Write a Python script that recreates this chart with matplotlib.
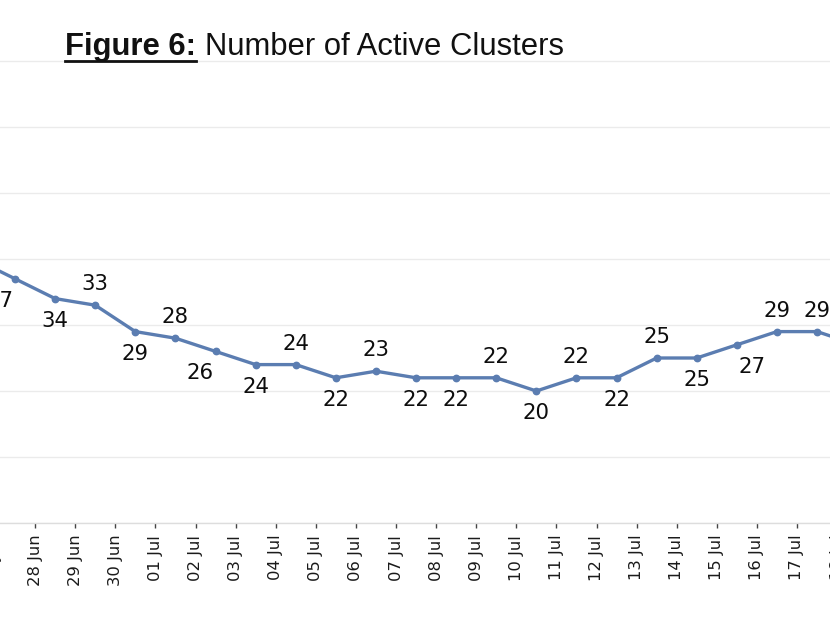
import matplotlib
matplotlib.use("Agg")
import matplotlib.pyplot as plt
from matplotlib.lines import Line2D

# ---- data ----
dates = ["26 Jun", "27 Jun", "28 Jun", "29 Jun", "30 Jun", "01 Jul", "02 Jul",
         "03 Jul", "04 Jul", "05 Jul", "06 Jul", "07 Jul", "08 Jul", "09 Jul",
         "10 Jul", "11 Jul", "12 Jul", "13 Jul", "14 Jul", "15 Jul", "16 Jul",
         "17 Jul", "18 Jul"]
clusters = [40, 37, 34, 33, 29, 28, 26, 24, 24, 22, 23, 22, 22, 22,
            20, 22, 22, 25, 25, 27, 29, 29, 27]
label_pos = ["a", "bl", "b", "a", "b", "a", "bl", "b", "a", "b", "a", "b", "b", "a",
             "b", "a", "b", "a", "b", "br", "a", "a", "b"]

W, H = 830, 622
DPI = 100
fig = plt.figure(figsize=(W / DPI, H / DPI), dpi=DPI)
fig.patch.set_facecolor("white")

# axes extends beyond the figure (the reference is a crop of a wider chart)
ax_left_px, ax_right_px = -100, 930
ax_bottom_px = 523
ax = fig.add_axes([ax_left_px / W, (H - ax_bottom_px) / H,
                   (ax_right_px - ax_left_px) / W, ax_bottom_px / H])

px_per_day = 40.1
tick0_px = -45.1  # pixel of first tick (26 Jun)
x0 = (ax_left_px - tick0_px) / px_per_day
x1 = (ax_right_px - tick0_px) / px_per_day
ax.set_xlim(x0, x1)
px_per_unit = 6.6
ax.set_ylim(0, ax_bottom_px / px_per_unit)

xs = [i + 0.5 for i in range(len(clusters))]
color = "#5B7DB1"
ax.plot(xs, clusters, color=color, lw=2.4, marker="o", ms=4.6,
        markerfacecolor=color, markeredgecolor=color, solid_joinstyle="round",
        zorder=3)

offs = {"a": (0, 21), "b": (0, -22), "bl": (-15, -22), "br": (15, -22)}
for x, v, p in zip(xs, clusters, label_pos):
    dx, dy = offs[p]
    ax.annotate(str(v), (x, v), xytext=(dx, dy), textcoords="offset pixels",
                ha="center", va="center", fontsize=15.3, color="#0d0d0d",
                family="DejaVu Sans", zorder=4)

# grid
ax.set_yticks(range(0, 80, 10))
ax.yaxis.grid(True, color="#ebebeb", lw=1.0)
ax.set_axisbelow(True)
ax.tick_params(axis="y", left=False, labelleft=False)
for s in ["top", "right", "left"]:
    ax.spines[s].set_visible(False)
ax.spines["bottom"].set_color("#dddddd")
ax.spines["bottom"].set_linewidth(1.0)

ax.set_xticks(range(len(dates)))
ax.set_xticklabels(dates, rotation=90, fontsize=11.8, color="#1a1a1a",
                   family="DejaVu Sans")
ax.tick_params(axis="x", direction="out", length=3.5, width=1.0,
               color="#444444", pad=5)

# title
fig.canvas.draw()
renderer = fig.canvas.get_renderer()
ty = (H - 55) / H
t1 = fig.text(65 / W, ty, "Figure 6:", fontsize=22.3, fontweight="bold",
              family="Liberation Sans", va="baseline", ha="left", color="#111111")
bb = t1.get_window_extent(renderer=renderer)
t2 = fig.text((bb.x1 + 9) / W, ty, "Number of Active Clusters", fontsize=22.3,
              family="Liberation Sans", va="baseline", ha="left", color="#111111")
uy = (H - 61) / H
fig.add_artist(Line2D([bb.x0 / W, bb.x1 / W], [uy, uy], color="#111111",
                      lw=2.0, transform=fig.transFigure))

fig.savefig("out.png", dpi=DPI, facecolor="white")
